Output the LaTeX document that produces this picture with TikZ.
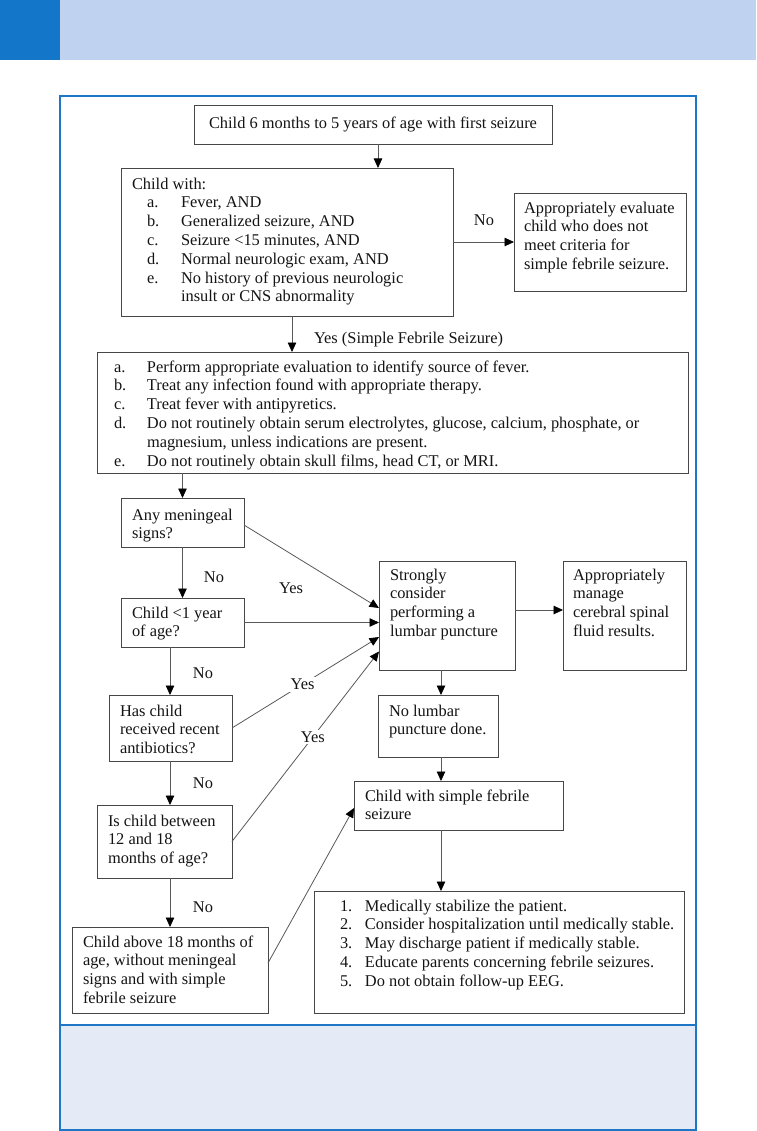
\documentclass[tikz,border=0pt]{standalone}
\usepackage{fontspec}
\setmainfont{Liberation Serif}
\usepackage{xcolor}
\usepackage{array}
\usetikzlibrary{positioning}
\usetikzlibrary{arrows.meta}
\definecolor{FSHeadSoft}{RGB}{191,211,240}
\definecolor{FSHeadDark}{RGB}{19,118,200}
\definecolor{FSFrame}{RGB}{30,118,198}
\definecolor{FSPanel}{RGB}{228,235,247}
\definecolor{FSInk}{RGB}{20,20,20}
\newcommand{\rows}[1]{\begin{tabular}{@{}l@{}}#1\end{tabular}}

\begin{document}
\begin{tikzpicture}[
x=1pt,
y=-1pt,
every node/.style={font=\fontsize{16.4}{18.8}\selectfont,text=FSInk,outer sep=0pt},
box/.style={draw=black!72,fill=white,line width=0.9pt,anchor=north west,inner sep=0pt},
txt/.style={anchor=north west,inner sep=0pt},
lbl/.style={inner sep=1pt},
onlbl/.style={inner sep=2pt,fill=white},
flow/.style={-{Triangle[length=9.5pt,width=8.5pt,black]},line width=0.8pt,draw=black!65},
]

\path[use as bounding box] (0,0) rectangle (756,1131);

% page furniture
\fill[FSHeadSoft] (0,0) rectangle (756,60);
\fill[FSHeadDark] (0,0) rectangle (60,60);
\draw[draw=FSFrame,fill=white,line width=1.1pt] (60,96) rectangle (696,1025);
\draw[draw=FSFrame,fill=FSPanel,line width=1.1pt] (60,1025) rectangle (696,1130);

% boxes
\node[box,minimum width=358,minimum height=39] (first) at (194,105) {};
\node[box,minimum width=332,minimum height=148] (crit) at (121,168) {};
\node[box,minimum width=172,minimum height=98] (other) at (514,193) {};
\node[box,minimum width=591,minimum height=121] (eval) at (97,352) {};
\node[box,minimum width=123,minimum height=49] (mening) at (121,498) {};
\node[box,minimum width=123,minimum height=49] (infant) at (121,598) {};
\node[box,minimum width=123,minimum height=66] (abx) at (109,695) {};
\node[box,minimum width=135,minimum height=73] (toddler) at (97,805) {};
\node[box,minimum width=196,minimum height=86] (older) at (72,927) {};
\node[box,minimum width=136,minimum height=109] (lp) at (379,561) {};
\node[box,minimum width=123,minimum height=109] (csf) at (563,561) {};
\node[box,minimum width=120,minimum height=62] (nolp) at (378,695) {};
\node[box,minimum width=209,minimum height=49] (simple) at (354,781) {};
\node[box,minimum width=370,minimum height=122] (plan) at (314,891) {};

% texts
\node[inner sep=0pt] (firstT) at (first.center) {\rows{Child 6 months to 5 years of age with first seizure}};
\node[txt,below right=8pt and 11pt of crit.north west] (critT) {\begin{tabular}{@{\hspace{15pt}}p{34pt}@{}l@{}}
\multicolumn{2}{@{}l@{}}{Child with:}\\
a. & Fever, AND\\
b. & Generalized seizure, AND\\
c. & Seizure <15 minutes, AND\\
d. & Normal neurologic exam, AND\\
e. & No history of previous neurologic\\
   & insult or CNS abnormality
\end{tabular}};
\node[txt,below right=7pt and 10pt of other.north west] (otherT) {\rows{Appropriately evaluate\\child who does not\\meet criteria for\\simple febrile seizure.}};
\node[txt,below right=7pt and 17pt of eval.north west] (evalT) {\begin{tabular}{@{}p{33pt}@{}l@{}}
a. & Perform appropriate evaluation to identify source of fever.\\
b. & Treat any infection found with appropriate therapy.\\
c. & Treat fever with antipyretics.\\
d. & Do not routinely obtain serum electrolytes, glucose, calcium, phosphate, or\\
   & magnesium, unless indications are present.\\
e. & Do not routinely obtain skull films, head CT, or MRI.
\end{tabular}};
\node[txt,below right=9pt and 11pt of mening.north west] (meningT) {\rows{Any meningeal\\signs?}};
\node[txt,below right=7pt and 11pt of infant.north west] (infantT) {\rows{Child <1 year\\of age?}};
\node[txt,below right=8pt and 11pt of abx.north west] (abxT) {\rows{Has child\\received recent\\antibiotics?}};
\node[txt,below right=8pt and 11pt of toddler.north west] (toddlerT) {\rows{Is child between\\12 and 18\\months of age?}};
\node[txt,below right=7pt and 11pt of older.north west] (olderT) {\rows{Child above 18 months of\\age, without meningeal\\signs and with simple\\febrile seizure}};
\node[txt,below right=6pt and 11pt of lp.north west] (lpT) {\rows{Strongly\\consider\\performing a\\lumbar puncture}};
\node[txt,below right=6pt and 10pt of csf.north west] (csfT) {\rows{Appropriately\\manage\\cerebral spinal\\fluid results.}};
\node[txt,below right=8pt and 11pt of nolp.north west] (nolpT) {\rows{No lumbar\\puncture done.}};
\node[txt,below right=7pt and 11pt of simple.north west] (simpleT) {\rows{Child with simple febrile\\seizure}};
\node[txt,below right=7pt and 26pt of plan.north west] (planT) {\begin{tabular}{@{}p{25pt}@{}l@{}}
1. & Medically stabilize the patient.\\
2. & Consider hospitalization until medically stable.\\
3. & May discharge patient if medically stable.\\
4. & Educate parents concerning febrile seizures.\\
5. & Do not obtain follow-up EEG.
\end{tabular}};

% branch labels
\node[lbl] (noOther) at (484,220) {No};
\node[lbl,anchor=west] (yesSimple) at (313,340) {Yes (Simple Febrile Seizure)};
\node[lbl] (noMening) at (214,577) {No};
\node[lbl] (yesMening) at (291,588) {Yes};
\node[lbl] (noInfant) at (203,673) {No};
\node[lbl] (noAbx) at (203,783) {No};
\node[lbl] (noToddler) at (203,907) {No};

% columns of the vertical links
\coordinate (colTop) at (378,0);
\coordinate (colCrit) at (292,0);
\coordinate (colLeft) at (170,0);
\coordinate (colRight) at (441,0);

\draw[flow] (first.south -| colTop) -- (crit.north -| colTop);
\draw[flow] (crit.east) -- (other.west);
\draw[flow] (crit.south -| colCrit) -- (eval.north -| colCrit);
\draw[flow] (eval.south -| mening.north) -- (mening.north);
\draw[flow] (mening.south) -- (infant.north);
\draw[flow] (infant.south -| colLeft) -- (abx.north -| colLeft);
\draw[flow] (abx.south -| colLeft) -- (toddler.north -| colLeft);
\draw[flow] (toddler.south -| colLeft) -- (older.north -| colLeft);

\draw[flow] ([yshift=-2.5pt]mening.east) -- ([yshift=7.5pt]lp.west);
\draw[flow] (infant.east) -- (infant.east -| lp.west);
\draw[flow] (abx.east) -- node[onlbl,pos=0.48] (yesAbx) {Yes} ([yshift=-21.5pt]lp.west);
\draw[flow] (toddler.east) -- node[onlbl,pos=0.55] (yesToddler) {Yes} ([yshift=-36pt]lp.west);
\draw[flow] ([yshift=7pt]older.east) -- ([yshift=-2.5pt]simple.west);

\draw[flow] ([yshift=5.5pt]lp.east) -- ([yshift=5.5pt]csf.west);
\draw[flow] (lp.south -| colRight) -- (nolp.north -| colRight);
\draw[flow] (nolp.south -| colRight) -- (simple.north -| colRight);
\draw[flow] (simple.south -| colRight) -- (plan.north -| colRight);

\end{tikzpicture}
\end{document}
